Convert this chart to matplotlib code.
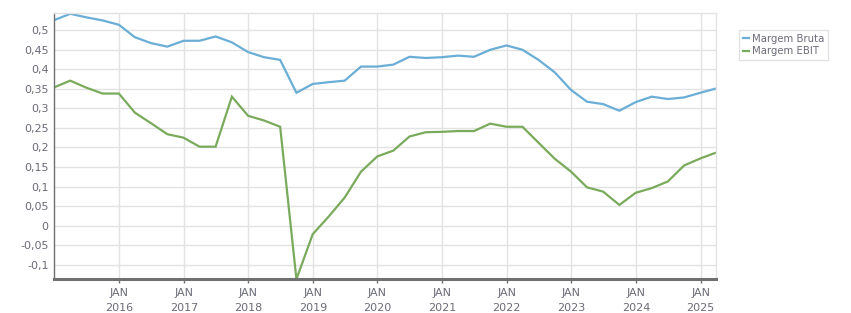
import matplotlib
matplotlib.use("Agg")
import matplotlib.pyplot as plt
import matplotlib.dates as mdates
import pandas as pd
from matplotlib.ticker import FuncFormatter, MultipleLocator

dates = pd.date_range("2014-12-31", "2025-03-31", freq="QE")

margem_bruta = [0.526, 0.542, 0.533, 0.525, 0.514, 0.482, 0.467, 0.458, 0.473, 0.473,
                0.484, 0.469, 0.444, 0.431, 0.424, 0.340, 0.3625, 0.367, 0.371, 0.407,
                0.407, 0.412, 0.432, 0.429, 0.431, 0.435, 0.432, 0.450, 0.461, 0.450,
                0.424, 0.392, 0.347, 0.317, 0.311, 0.294, 0.316, 0.330, 0.324, 0.328,
                0.340, 0.351]
margem_ebit = [0.354, 0.371, 0.353, 0.338, 0.338, 0.289, 0.262, 0.234, 0.225, 0.202,
               0.202, 0.330, 0.281, 0.269, 0.253, -0.137, -0.022, 0.023, 0.072, 0.138,
               0.177, 0.192, 0.228, 0.239, 0.240, 0.242, 0.242, 0.261, 0.253, 0.253,
               0.212, 0.171, 0.138, 0.098, 0.087, 0.053, 0.084, 0.096, 0.113, 0.154,
               0.172, 0.187]
series_names = ["Margem Bruta", "Margem EBIT"]
colors = ["#6aaed6", "#7aaa5c"]
tick_years = list(range(2016, 2026))

fig = plt.figure(figsize=(8.51, 3.13), dpi=100)
ax = fig.add_axes([54.3/851, 1-279.3/313, (716.3-54.3)/851, (279.3-13.3)/313])

for vals, name, c in zip([margem_bruta, margem_ebit], series_names, colors):
    ax.plot(dates, vals, color=c, lw=1.6, label=name, solid_joinstyle="miter")

ax.set_xlim(dates[0], dates[-1])
ax.set_ylim(-0.1373, 0.5433)

ax.yaxis.set_major_locator(MultipleLocator(0.05))
def yfmt(v, p):
    s = ("%.2f" % v).rstrip("0").rstrip(".")
    if s in ("-0", "0.0"):
        s = "0"
    return s.replace(".", ",")
ax.yaxis.set_major_formatter(FuncFormatter(yfmt))

xt = [pd.Timestamp(f"{y}-01-01") for y in tick_years]
ax.set_xticks(xt)
ax.set_xticklabels([f"JAN\n{y}" for y in tick_years])

gridc = "#e2e2e2"
ax.grid(True, color=gridc, lw=1)
ax.set_axisbelow(True)
for s in ["top", "right"]:
    ax.spines[s].set_color(gridc)
    ax.spines[s].set_linewidth(1)
ax.spines["left"].set_color("#707070")
ax.spines["left"].set_linewidth(1)
ax.spines["bottom"].set_color("#707070")
ax.spines["bottom"].set_linewidth(2.2)

labc = "#6b6b78"
ax.tick_params(axis="y", length=0, labelsize=8, colors=labc, pad=4)
ax.tick_params(axis="x", length=3, width=1, color="#707070", labelsize=8, colors=labc, pad=3.5)
for t in ax.get_xticklabels():
    t.set_linespacing(1.6)

leg = fig.legend(loc="upper left", bbox_to_anchor=(739/851, 1-30/313), fontsize=7.3,
                 frameon=True, fancybox=False, handlelength=0.6, handletextpad=0.3,
                 borderpad=0.35, labelspacing=0.25, borderaxespad=0)
leg.get_frame().set_edgecolor("#dddddd")
leg.get_frame().set_linewidth(1)
for t in leg.get_texts():
    t.set_color(labc)

fig.savefig("out.png", dpi=100)
